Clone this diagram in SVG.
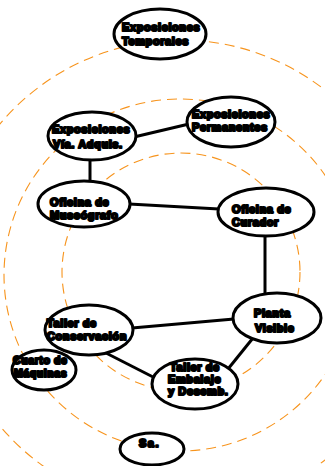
<svg xmlns="http://www.w3.org/2000/svg" width="325" height="466" viewBox="0 0 325 466">
<style>
.ring{fill:none;stroke:#f7941d;stroke-width:1.1;stroke-dasharray:10 6}
.node ellipse{fill:#fff;stroke:#000;stroke-width:3}
.node text{font-family:"Liberation Sans",Arial,sans-serif;font-weight:bold;font-size:11px;letter-spacing:0.6px;fill:#000;stroke:#000;stroke-width:2.2;stroke-linejoin:round}
.edges line{stroke:#000;stroke-width:3}
</style>
<rect width="325" height="466" fill="#fff"/>
<g id="rings">
<circle class="ring" cx="180" cy="275" r="235"/>
<circle class="ring" cx="180" cy="275" r="176"/>
<circle class="ring" cx="181" cy="272" r="119"/>
</g>
<g class="edges" id="connectors">
<line x1="134" y1="137" x2="189" y2="124"/>
<line x1="90" y1="159" x2="90" y2="183"/>
<line x1="129" y1="204" x2="219" y2="209"/>
<line x1="265" y1="235" x2="265" y2="294"/>
<line x1="132" y1="328" x2="234" y2="319"/>
<line x1="106" y1="353" x2="155" y2="378"/>
<line x1="228" y1="369" x2="253" y2="338"/>
</g>
<g class="node" id="n-expo-temporales"><ellipse cx="160" cy="34" rx="46" ry="25"/><text x="122" y="31">Exposiciones</text><text x="122" y="45">Temporales</text></g>
<g class="node" id="n-expo-adquis"><ellipse cx="92" cy="136" rx="44" ry="24"/><text x="52" y="133">Exposiciones</text><text x="53" y="148">Vía. Adquis.</text></g>
<g class="node" id="n-expo-permanentes"><ellipse cx="231" cy="122" rx="44" ry="25"/><text x="192" y="118">Exposiciones</text><text x="192" y="131">Permanentes</text></g>
<g class="node" id="n-oficina-museografo"><ellipse cx="84" cy="204" rx="46" ry="23"/><text x="50" y="206">Oficina de</text><text x="50" y="219">Museógrafo</text></g>
<g class="node" id="n-oficina-curador"><ellipse cx="266" cy="212" rx="48" ry="24"/><text x="232" y="213">Oficina de</text><text x="232" y="226">Curador</text></g>
<g class="node" id="n-taller-conservacion"><ellipse cx="89" cy="330" rx="44" ry="25"/><text x="47" y="327">Taller de</text><text x="47" y="340">Conservación</text></g>
<g class="node" id="n-planta-visible"><ellipse cx="277" cy="318" rx="44" ry="25"/><text x="254" y="317">Planta</text><text x="255" y="332">Visible</text></g>
<g class="node" id="n-cuarto-maquinas"><ellipse cx="44" cy="370" rx="32" ry="20"/><text x="13" y="364" style="font-size:10.5px">Cuarto de</text><text x="14" y="377" style="font-size:10.5px">Máquinas</text></g>
<g class="node" id="n-taller-embalaje"><ellipse cx="195" cy="384" rx="43" ry="25"/><text x="170" y="371">Taller de</text><text x="168" y="383">Embalaje</text><text x="168" y="395">y Desemb.</text></g>
<g class="node" id="n-sa"><ellipse cx="152" cy="449" rx="32" ry="16"/><text x="139" y="447" style="letter-spacing:1.5px">Sa.</text></g>
</svg>
